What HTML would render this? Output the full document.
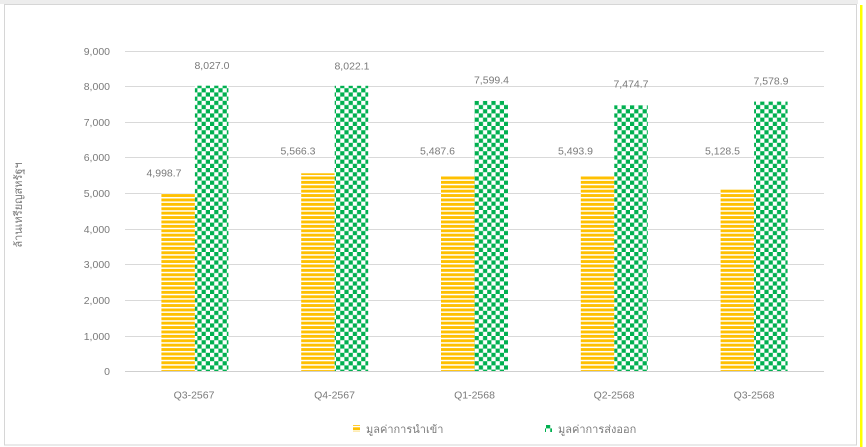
<!DOCTYPE html>
<html>
<head>
<meta charset="utf-8">
<style>
  html, body { margin: 0; padding: 0; background: #ffffff; }
  body { width: 866px; height: 447px; overflow: hidden; }
  svg { display: block; }
  text { font-family: "Liberation Sans", "DejaVu Sans", "Noto Sans CJK SC", sans-serif; fill: #7a7a7a; }
</style>
</head>
<body>
<svg width="866" height="447" viewBox="0 0 866 447" xmlns="http://www.w3.org/2000/svg">
  <defs>
    <pattern id="stripe" patternUnits="userSpaceOnUse" x="0" y="0.5" width="4.4" height="4.4">
      <rect x="0" y="0" width="4.4" height="4.4" fill="#ffffff"/>
      <rect x="0" y="0" width="4.4" height="2.9" fill="#ffc000"/>
    </pattern>
    <pattern id="check" patternUnits="userSpaceOnUse" x="0" y="0" width="8.4" height="8.4">
      <rect x="0" y="0" width="8.4" height="8.4" fill="#00b050"/>
      <rect x="0" y="0" width="4.2" height="4.2" fill="#ffffff"/>
      <rect x="4.2" y="4.2" width="4.2" height="4.2" fill="#ffffff"/>
    </pattern>
  </defs>

  <!-- frame -->
  <rect x="0" y="0" width="858" height="4" fill="#ededed"/>
  <rect x="4.5" y="4.5" width="852" height="440.5" fill="none" stroke="#d6d6d6" stroke-width="1"/>
  <rect x="860" y="5" width="2.5" height="442" fill="#ffff00"/>

  <!-- gridlines -->
  <g stroke="#d9d9d9" stroke-width="1">
    <line x1="125" y1="51.5" x2="824" y2="51.5"/>
    <line x1="125" y1="86.5" x2="824" y2="86.5"/>
    <line x1="125" y1="122.5" x2="824" y2="122.5"/>
    <line x1="125" y1="157.5" x2="824" y2="157.5"/>
    <line x1="125" y1="193.5" x2="824" y2="193.5"/>
    <line x1="125" y1="229.5" x2="824" y2="229.5"/>
    <line x1="125" y1="264.5" x2="824" y2="264.5"/>
    <line x1="125" y1="300.5" x2="824" y2="300.5"/>
    <line x1="125" y1="336.5" x2="824" y2="336.5"/>
  </g>

  <!-- bars -->
  <g>
    <rect x="161.4" y="193.5" width="33.5" height="178" fill="url(#stripe)"/>
    <rect x="194.9" y="85.7" width="33.5" height="285.8" fill="url(#check)"/>

    <rect x="301.2" y="173.3" width="33.5" height="198.2" fill="url(#stripe)"/>
    <rect x="334.7" y="85.8" width="33.5" height="285.7" fill="url(#check)"/>

    <rect x="441.0" y="176.1" width="33.5" height="195.4" fill="url(#stripe)"/>
    <rect x="474.5" y="100.9" width="33.5" height="270.6" fill="url(#check)"/>

    <rect x="580.8" y="175.9" width="33.5" height="195.6" fill="url(#stripe)"/>
    <rect x="614.3" y="105.3" width="33.5" height="266.2" fill="url(#check)"/>

    <rect x="720.6" y="188.9" width="33.5" height="182.6" fill="url(#stripe)"/>
    <rect x="754.1" y="101.6" width="33.5" height="269.9" fill="url(#check)"/>
  </g>

  <!-- zero axis line -->
  <line x1="125" y1="371.5" x2="824" y2="371.5" stroke="#cfcfcf" stroke-width="1"/>

  <!-- y tick labels -->
  <g font-size="10.5" text-anchor="end">
    <text x="110" y="55">9,000</text>
    <text x="110" y="90">8,000</text>
    <text x="110" y="126">7,000</text>
    <text x="110" y="161">6,000</text>
    <text x="110" y="197">5,000</text>
    <text x="110" y="233">4,000</text>
    <text x="110" y="268">3,000</text>
    <text x="110" y="304">2,000</text>
    <text x="110" y="340">1,000</text>
    <text x="110" y="375">0</text>
  </g>

  <!-- data labels -->
  <g font-size="10.5" text-anchor="middle">
    <text x="164" y="176.5">4,998.7</text>
    <text x="212" y="69">8,027.0</text>

    <text x="298" y="154.5">5,566.3</text>
    <text x="352" y="69.5">8,022.1</text>

    <text x="437.5" y="154.5">5,487.6</text>
    <text x="491.5" y="83.5">7,599.4</text>

    <text x="575.5" y="154.5">5,493.9</text>
    <text x="631" y="87.5">7,474.7</text>

    <text x="722.5" y="154.5">5,128.5</text>
    <text x="771" y="84.5">7,578.9</text>
  </g>

  <!-- x category labels -->
  <g font-size="10.5" text-anchor="middle">
    <text x="194" y="398.5">Q3-2567</text>
    <text x="334.5" y="398.5">Q4-2567</text>
    <text x="474.5" y="398.5">Q1-2568</text>
    <text x="614" y="398.5">Q2-2568</text>
    <text x="754" y="398.5">Q3-2568</text>
  </g>

  <!-- y axis title -->
  <text font-size="11" text-anchor="middle" transform="translate(22,205) rotate(-90)">ล้านเหรียญสหรัฐฯ</text>

  <!-- legend -->
  <rect x="353" y="425" width="7" height="7" fill="url(#stripe)"/>
  <text x="366" y="433" font-size="11">มูลค่าการนำเข้า</text>
  <rect x="545" y="425" width="7" height="7" fill="url(#check)"/>
  <text x="558" y="433" font-size="11">มูลค่าการส่งออก</text>
</svg>
</body>
</html>
